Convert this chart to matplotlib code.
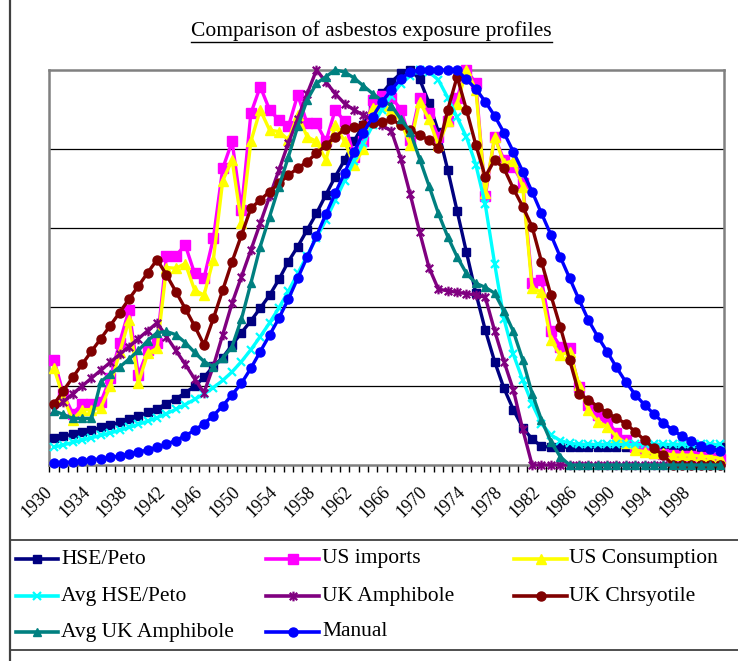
import matplotlib.pyplot as plt
from matplotlib.lines import Line2D
from matplotlib.path import Path
import matplotlib.transforms as mtransforms

# years on the category axis, 1930-2001
years = list(range(1930, 2002))
label_years = [1930, 1934, 1938, 1942, 1946, 1950, 1954, 1958, 1962, 1966,
               1970, 1974, 1978, 1982, 1986, 1990, 1994, 1998]

hse_peto = [.068, .073, .078, .083, .089, .095, .101, .108, .116, .124,
            .133, .143, .155, .168, .182, .200, .222, .250, .272, .304,
            .335, .365, .397, .430, .470, .515, .553, .595, .637, .684,
            .730, .772, .820, .861, .907, .941, .970, .992, 1.0, .977,
            .917, .844, .747, .643, .538, .435, .342, .262, .194, .140,
            .094, .066, .047, .045, .045, .045, .045, .045, .045, .045,
            .045, .045, .045, .045, .045, .045, .045, .045, .045, .045, .045, .045]

us_imports = [.266, .180, .130, .155, .155, .160, .220, .310, .392, .228,
              .290, .310, .530, .530, .557, .485, .473, .574, .751, .819,
              .646, .890, .958, .899, .873, .857, .937, .865, .865, .819,
              .899, .870, .780, .820, .925, .935, .930, .900, .823, .930,
              .890, .830, .870, .930, 1.0, .966, .680, .830, .772, .755,
              .713, .460, .468, .338, .300, .295, .198, .152, .127, .114,
              .080, .063, .046, .038, .030, .028, .025, .024, .022, .020, .018, .015]

us_consumption = [.245, .170, .115, .140, .140, .145, .200, .285, .367, .207,
                  .283, .295, .500, .498, .510, .443, .430, .520, .720, .772,
                  .612, .819, .899, .848, .844, .823, .886, .831, .819, .772,
                  .861, .819, .760, .800, .905, .910, .900, .870, .810, .920,
                  .875, .810, .870, .915, 1.0, .950, .688, .830, .764, .770,
                  .705, .447, .439, .316, .278, .287, .203, .139, .110, .097,
                  .072, .055, .038, .034, .030, .030, .025, .025, .025, .022, .021, .017]

avg_hse_peto = [.045, .051, .057, .063, .069, .075, .081, .088, .095, .103,
                .111, .120, .130, .141, .153, .166, .180, .196, .214, .236,
                .262, .292, .325, .360, .398, .440, .485, .530, .575, .620,
                .670, .720, .770, .815, .860, .900, .935, .965, .985, 1.0,
                .995, .975, .930, .880, .830, .760, .660, .510, .370, .280,
                .215, .155, .105, .076, .062, .055, .052, .052, .052, .052,
                .052, .052, .052, .052, .052, .052, .052, .052, .052, .052, .052, .052]

uk_amphibole = [.140, .160, .180, .200, .220, .240, .260, .280, .300, .320,
                .340, .360, .325, .290, .255, .218, .183, .250, .330, .410,
                .477, .544, .612, .680, .747, .815, .877, .940, 1.0, .970,
                .940, .915, .899, .886, .873, .860, .845, .775, .685, .590,
                .500, .445, .441, .437, .434, .430, .425, .340, .262, .190,
                .090, 0, 0, 0, 0, 0, 0, 0, 0, 0,
                0, 0, 0, 0, 0, 0, 0, 0, 0, 0, 0, 0]

uk_chrysotile = [.154, .188, .222, .255, .288, .320, .353, .386, .420, .453,
                 .487, .520, .481, .439, .396, .352, .304, .371, .443, .515,
                 .582, .650, .671, .692, .713, .734, .751, .768, .789, .810,
                 .831, .850, .855, .861, .865, .869, .875, .861, .848, .835,
                 .823, .802, .899, .983, .899, .810, .730, .772, .751, .700,
                 .654, .603, .515, .430, .350, .266, .181, .165, .148, .132,
                 .118, .105, .084, .063, .042, .025, 0, 0, 0, 0, 0, 0]

avg_uk_amphibole = [.137, .128, .118, .118, .118, .211, .230, .248, .268, .290,
                    .315, .335, .338, .330, .310, .285, .262, .249, .270, .300,
                    .370, .460, .553, .629, .705, .780, .857, .924, .966, .983,
                    1.0, .995, .980, .960, .940, .922, .910, .875, .844, .775,
                    .707, .637, .578, .527, .485, .460, .450, .435, .390, .338,
                    .266, .181, .114, .059, .021, 0, 0, 0, 0, 0,
                    0, 0, 0, 0, 0, 0, 0, 0, 0, 0, 0, 0]

manual = [.005, .006, .008, .010, .013, .016, .019, .023, .028, .033,
          .038, .045, .053, .062, .074, .088, .105, .125, .150, .178,
          .207, .245, .287, .329, .372, .420, .473, .526, .580, .635,
          .688, .740, .793, .841, .882, .920, .950, .978, .995, 1.0,
          1.0, 1.0, 1.0, 1.0, .976, .952, .920, .884, .841, .793,
          .743, .692, .637, .583, .527, .473, .419, .367, .325, .287,
          .247, .210, .178, .152, .129, .107, .088, .073, .060, .049, .041, .035]

# Excel style "star" marker: an x with a vertical bar
star = Path([(-1, -1), (1, 1), (-1, 1), (1, -1), (0, -1.3), (0, 1.3)],
            [Path.MOVETO, Path.LINETO, Path.MOVETO, Path.LINETO, Path.MOVETO, Path.LINETO])

series = [
    ('HSE/Peto', hse_peto, '#000080', 's', 6.0),
    ('US imports', us_imports, '#FF00FF', 's', 7.0),
    ('US Consumption', us_consumption, '#FFFF00', '^', 7.5),
    ('Avg HSE/Peto', avg_hse_peto, '#00FFFF', 'x', 5.5),
    ('UK Amphibole', uk_amphibole, '#800080', star, 7.0),
    ('UK Chrsyotile', uk_chrysotile, '#800000', 'o', 6.5),
    ('Avg UK Amphibole', avg_uk_amphibole, '#008080', '^', 6.0),
    ('Manual', manual, '#0000FF', 'o', 6.5),
]

W, H = 738, 661
plt.rcParams['font.family'] = ['Liberation Serif', 'DejaVu Serif']
fig = plt.figure(figsize=(W / 100, H / 100), dpi=100)


def fx(px):
    return px / W


def fy(py):
    return 1 - py / H


def edge_width(mk):
    return 1.6 if (mk == 'x' or mk is star) else 1.0


ax = fig.add_axes([fx(49.3), fy(465), fx(724.3) - fx(49.3), fy(70) - fy(465)])
xs = list(range(len(years)))

for yv in [0.2, 0.4, 0.6, 0.8]:
    ax.axhline(yv, color='black', lw=0.9, zorder=1)

for i, (name, vals, col, mk, ms) in enumerate(series):
    ax.plot(xs, vals, color=col, lw=2.4, marker=mk, ms=ms, mfc=col, mec=col,
            mew=edge_width(mk), clip_on=False, zorder=3 + i)

ax.set_xlim(-0.5, len(years) - 0.5)
ax.set_ylim(0, 1)
ax.set_yticks([])
ax.set_xticks([k - 0.5 for k in range(len(years) + 1)])
ax.set_xticklabels([])
ax.tick_params(axis='x', direction='out', length=5, width=1, color='black')
for sp in ax.spines.values():
    sp.set_color('#808080')
    sp.set_linewidth(1.8)

lab_trans = ax.get_xaxis_transform() + mtransforms.ScaledTranslation(
    -4 / 100, -24 / 100, fig.dpi_scale_trans)
for yr in label_years:
    ax.text(years.index(yr), 0, str(yr), transform=lab_trans, rotation=45,
            rotation_mode='anchor', ha='right', va='center', fontsize=13,
            clip_on=False)

# title with underline
title = fig.text(fx(371.5), fy(31), 'Comparison of asbestos exposure profiles',
                 ha='center', va='center', fontsize=15.5)
fig.canvas.draw()
bb = title.get_window_extent()
fig.add_artist(Line2D([bb.x0 / W, bb.x1 / W], [fy(42), fy(42)],
                      color='black', lw=1.0, transform=fig.transFigure))

# outer frame and legend box
fig.add_artist(Line2D([fx(10), fx(10)], [0, 1], color='#404040', lw=1.6,
                      transform=fig.transFigure))
for yy in (540, 650):
    fig.add_artist(Line2D([fx(10), 1], [fy(yy), fy(yy)], color='#404040',
                          lw=1.3, transform=fig.transFigure))

# legend entries
rows = [559, 596, 632]
line_x = [(16, 58), (266, 319), (514, 567)]
text_x = [61, 322, 569]
for i, (name, vals, col, mk, ms) in enumerate(series):
    r, c = divmod(i, 3)
    x0, x1 = line_x[c]
    yy = fy(rows[r])
    fig.add_artist(Line2D([fx(x0), fx(x1)], [yy, yy], color=col, lw=2.6,
                          transform=fig.transFigure))
    fig.add_artist(Line2D([fx((x0 + x1) / 2)], [yy], color=col, lw=0,
                          marker=mk, ms=ms, mfc=col, mec=col,
                          mew=edge_width(mk), transform=fig.transFigure))
    fig.text(fx(text_x[c]), yy, name, ha='left', va='center', fontsize=15.5)

fig.savefig('out.png', dpi=100)
